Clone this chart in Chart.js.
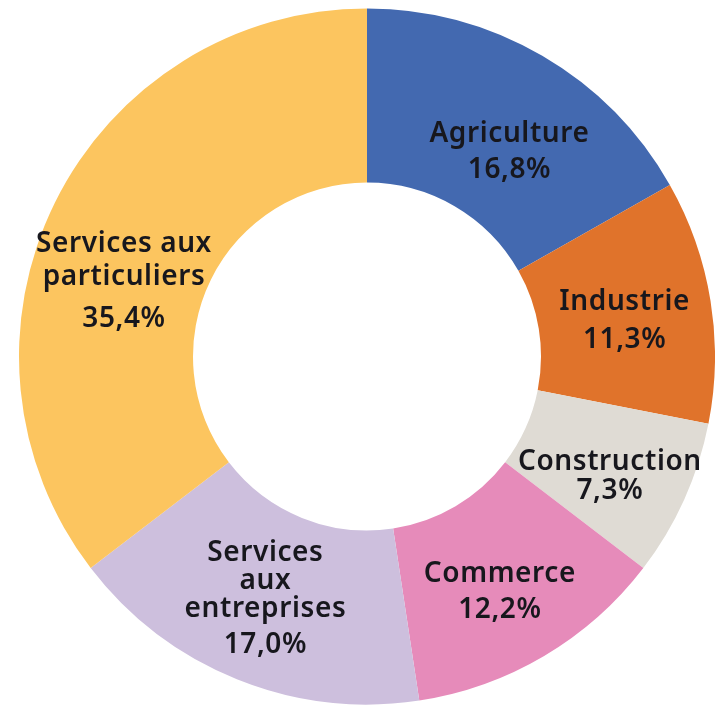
<!DOCTYPE html>
<html>
<head>
<meta charset="utf-8">
<script src="https://cdn.jsdelivr.net/npm/chart.js@4"></script>
<style>
  html, body { margin: 0; padding: 0; background: #fff; overflow: hidden; }
  #wrap { width: 715px; height: 709px; }
</style>
</head>
<body>
<div id="wrap"><canvas id="myChart" width="715" height="709"></canvas></div>
<script>
// secteurs, dans l'ordre horaire depuis midi
const sectors = [
    ["Agriculture"],
    ["Industrie"],
    ["Construction"],
    ["Commerce"],
    ["Services", "aux", "entreprises"],
    ["Services aux", "particuliers"]
];
const shares = [16.8, 11.3, 7.3, 12.2, 17.0, 35.4];
const colors = ["#4369b0", "#e0732b", "#dfdbd4", "#e68bba", "#cdbfdd", "#fcc55f"];

// mise en page des etiquettes : decalage depuis le milieu de l'arc, interlignes
const labelNudge = [[11, 21], [0, 6], [5, 13], [0, 11], [-4, 0], [-9, 41]];
const labelGaps = [[30, 36], [30, 38], [30, 29], [30, 36], [28, 36], [33, 42]];

const fmt = v => v.toFixed(1).replace(".", ",") + "%";

const sliceLabels = {
    id: "sliceLabels",
    afterDatasetsDraw(chart) {
        const { ctx } = chart;
        const meta = chart.getDatasetMeta(0);
        ctx.save();
        ctx.fillStyle = "#17171d";
        ctx.font = "600 28px 'Noto Sans', 'Open Sans', sans-serif";
        ctx.letterSpacing = "0.6px";
        ctx.textAlign = "center";
        ctx.textBaseline = "middle";
        meta.data.forEach((arc, i) => {
            const mid = arc.getCenterPoint();
            const lines = sectors[i];
            const [nameGap, pctGap] = labelGaps[i];
            const span = (lines.length - 1) * nameGap + pctGap;
            const x = mid.x + labelNudge[i][0];
            let y = mid.y + labelNudge[i][1] - span / 2;
            lines.forEach(line => {
                ctx.fillText(line, x, y);
                y += nameGap;
            });
            y += pctGap - nameGap;
            ctx.fillText(fmt(shares[i]), x, y);
        });
        ctx.restore();
    }
};

const ctx = document.getElementById("myChart").getContext("2d");
new Chart(ctx, {
    type: "doughnut",
    data: {
        labels: sectors.map(s => s.join(" ")),
        datasets: [{
            data: shares,
            backgroundColor: colors,
            borderWidth: 0
        }]
    },
    options: {
        responsive: false,
        animation: false,
        cutout: "50%",
        layout: { padding: { left: 19, right: 0, top: 8, bottom: 4 } },
        plugins: {
            legend: { display: false },
            tooltip: { enabled: false }
        }
    },
    plugins: [sliceLabels]
});
</script>
</body>
</html>
